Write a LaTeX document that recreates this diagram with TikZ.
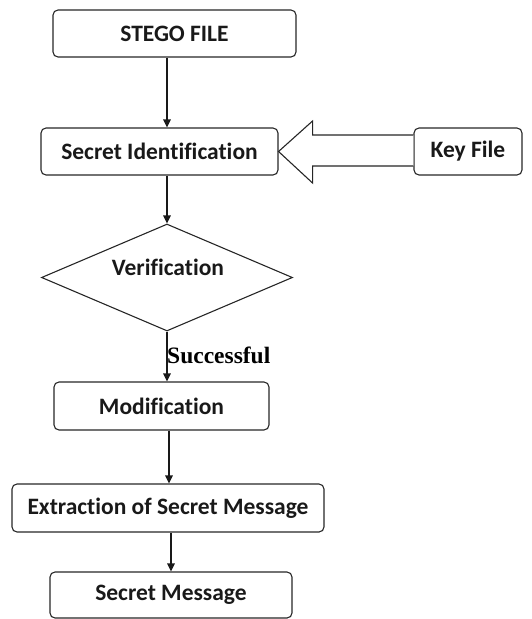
\documentclass[tikz,border=0pt]{standalone}
\usepackage{fontspec}
\setmainfont[RawFeature={-liga;-clig;-dlig}]{Carlito}
\newfontfamily\serifbold{Liberation Serif}
\usetikzlibrary{shapes.geometric,arrows.meta,calc}
\begin{document}
\begin{tikzpicture}[x=1pt,y=-1pt,
  box/.style={draw=black!85,line width=1.1pt,rounded corners=5pt,inner sep=0pt,
    font=\fontsize{23.5}{26}\selectfont\bfseries,text=black!90},
  arr/.style={draw=black!90,line width=1.1pt,-{Triangle[length=8pt,width=7.5pt]}},
  dia/.style={draw=black!85,line width=1.1pt,diamond,shape aspect=2.35,inner sep=0pt,
    minimum width=251pt,minimum height=107pt},
  txt/.style={font=\fontsize{23.5}{26}\selectfont\bfseries,text=black!90,inner sep=0pt}]
\useasboundingbox (0,0) rectangle (532,619);
\node[box,minimum width=243pt,minimum height=47pt] (stego) at (174.5,33.5) {STEGO FILE};
\node[box,minimum width=237pt,minimum height=47pt] (si) at (159.5,151.5) {Secret Identification};
\node[box,minimum width=108pt,minimum height=47pt] (kf) at (468,151.5) {Key File};
\node[dia] (ver) at (167,277.5) {};
\node[txt] (vertxt) at (168,267) {Verification};
\node[box,minimum width=215pt,minimum height=48pt] (mod) at (161.5,406) {Modification};
\node[box,minimum width=312pt,minimum height=48pt] (ext) at (168,508) {Extraction of Secret Message};
\node[box,minimum width=242pt,minimum height=46pt] (sm) at (171,595) {Secret Message};
\node[anchor=west,inner sep=0pt,font=\serifbold\fontsize{23.5}{26}\selectfont\bfseries] (succ) at (167,355) {Successful};
\coordinate (modout) at ([xshift=7.5pt]mod.south);
% arrows
\draw[arr] (stego.south -| ver.north) -- (si.north -| ver.north);
\draw[arr] (si.south -| ver.north) -- (ver.north);
\draw[arr] (ver.south) -- (mod.north -| ver.south);
\draw[arr] (modout) -- (ext.north -| modout);
\draw[arr] (ext.south -| sm.north) -- (sm.north);
% big hollow arrow
\draw[draw=black!85,line width=1.1pt,fill=white]
  ($(kf.west)+(0,-16.5)$) -- ($(si.east)+(34,-16.5)$) -- ($(si.east)+(34,-30.5)$)
  -- (si.east) -- ($(si.east)+(34,31.5)$) -- ($(si.east)+(34,14.5)$) -- ($(kf.west)+(0,14.5)$);
\end{tikzpicture}
\end{document}
